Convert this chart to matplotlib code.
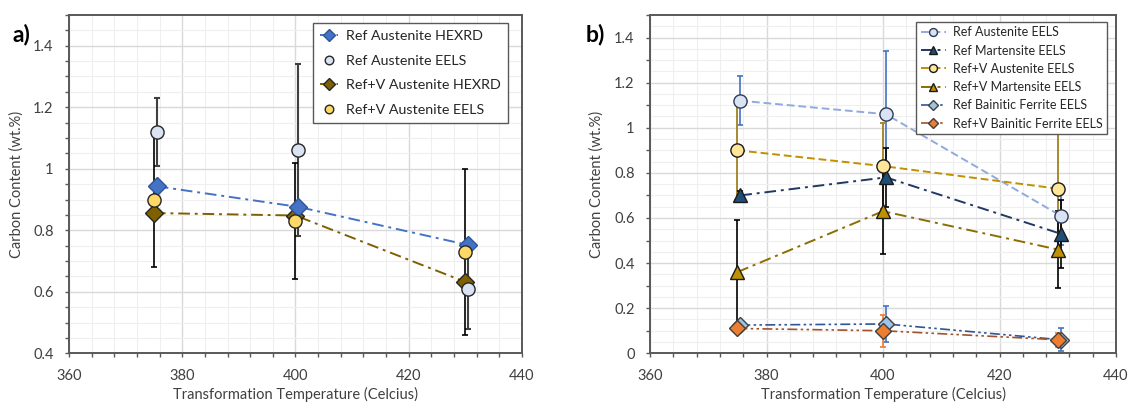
import matplotlib
matplotlib.use("Agg")
import matplotlib.pyplot as plt
import numpy as np
from matplotlib.ticker import MultipleLocator, FuncFormatter

plt.rcParams["font.family"] = ["Lato", "DejaVu Sans"]

# transformation temperatures (Ref points sit slightly right of Ref+V ones)
temp_ref = [375.5, 400.5, 430.5]
temp_refv = [375.0, 400.0, 430.0]

# panel a: austenite carbon from HEXRD and EELS
ref_aus_hexrd = [0.943, 0.876, 0.752]
refv_aus_hexrd = [0.856, 0.848, 0.632]
ref_aus_eels = [1.12, 1.06, 0.61]
ref_aus_eels_err = [0.11, 0.28, 0.13]
refv_aus_eels = [0.90, 0.83, 0.73]
refv_aus_eels_err = [0.22, 0.19, 0.27]

# panel b: EELS per phase
ref_mart_eels = [0.70, 0.78, 0.53]
ref_mart_eels_err = [0.02, 0.13, 0.15]
refv_mart_eels = [0.36, 0.63, 0.46]
refv_mart_eels_err = [0.23, 0.19, 0.17]
ref_bf_eels = [0.125, 0.13, 0.06]
ref_bf_eels_err = [0.02, 0.08, 0.05]
refv_bf_eels = [0.11, 0.10, 0.06]
refv_bf_eels_err = [0.02, 0.07, 0.03]

GREY = "#595959"
TEXT = "#404040"
DASHDOT = (0, (6, 2.5, 1.5, 2.5))
DASHED = (0, (4, 2))
DASHDOTDOT = (0, (6, 2, 1.5, 2, 1.5, 2))


def style_axes(ax, ymin, ymax):
    ax.set_xticks(np.arange(360, 441, 20))
    ax.xaxis.set_minor_locator(MultipleLocator(4))
    ax.set_yticks(np.arange(ymin, 1.41, 0.2))
    ax.yaxis.set_minor_locator(MultipleLocator(0.05))
    ax.yaxis.set_major_formatter(FuncFormatter(lambda v, p: "%g" % round(v, 2)))
    ax.set_xlim(360, 440)
    ax.set_ylim(ymin, ymax)
    ax.grid(which="major", color="#d9d9d9", lw=1.0, zorder=0)
    ax.grid(which="minor", color="#efefef", lw=0.8, zorder=0)
    ax.set_axisbelow(True)
    for sp in ax.spines.values():
        sp.set_color(GREY)
        sp.set_linewidth(1.4)
    ax.tick_params(which="both", direction="out", length=3, width=1.0,
                   color=GREY, labelcolor=TEXT, labelsize=10.5, pad=8)
    ax.set_xlabel("Transformation Temperature (Celcius)", fontsize=10.5,
                  color=TEXT, labelpad=3)
    ax.set_ylabel("Carbon Content (wt.%)", fontsize=10.5, color=TEXT)
    ax.yaxis.set_label_coords(-0.10, 0.5)


def errbars(ax, x, y, e, color, lw=1.2):
    ax.errorbar(x, y, yerr=e, fmt="none", ecolor=color, elinewidth=lw,
                capsize=2.5, capthick=lw, zorder=2)


fig = plt.figure(figsize=(11.33, 4.05), dpi=100)
ax_a = fig.add_axes([0.0609, 0.1277, 0.3998, 0.8353])
ax_b = fig.add_axes([0.5737, 0.1277, 0.4113, 0.8353])

# ---- a) ----
errbars(ax_a, temp_ref, ref_aus_eels, ref_aus_eels_err, "#404040", 1.5)
errbars(ax_a, temp_refv, refv_aus_eels, refv_aus_eels_err, "black")
ax_a.plot(temp_ref, ref_aus_hexrd, color="#4472C4", ls=DASHDOT, lw=1.4,
          marker="D", ms=9.5, mfc="#4472C4", mec="#2F5597", mew=1.0,
          zorder=4, label="Ref Austenite HEXRD")
ax_a.plot(temp_ref, ref_aus_eels, ls="none", marker="o", ms=9.5,
          mfc="#DAE3F3", mec="#262626", mew=1.0, zorder=4,
          label="Ref Austenite EELS")
ax_a.plot(temp_refv, refv_aus_hexrd, color="#7F6000", ls=DASHDOT, lw=1.4,
          marker="D", ms=9.5, mfc="#7F6000", mec="#262626", mew=1.0,
          zorder=3, label="Ref+V Austenite HEXRD")
ax_a.plot(temp_refv, refv_aus_eels, ls="none", marker="o", ms=9.5,
          mfc="#FFD966", mec="#262626", mew=1.0, zorder=5,
          label="Ref+V Austenite EELS")
style_axes(ax_a, 0.4, 1.5)
leg = ax_a.legend(loc="upper right", bbox_to_anchor=(0.985, 0.998),
                  fontsize=10.3, handlelength=1.2, markerscale=0.65,
                  handletextpad=0.6, labelspacing=0.88, borderpad=0.5,
                  fancybox=False, framealpha=1, edgecolor=GREY,
                  labelcolor="#262626")
leg.get_frame().set_linewidth(1.0)

# ---- b) ----
errbars(ax_b, temp_ref, ref_aus_eels, ref_aus_eels_err, "#4472C4")
errbars(ax_b, temp_refv, refv_aus_eels, refv_aus_eels_err, "#A68A30", 1.4)
errbars(ax_b, temp_ref, ref_mart_eels, ref_mart_eels_err, "black")
errbars(ax_b, temp_refv, refv_mart_eels, refv_mart_eels_err, "black")
errbars(ax_b, temp_ref, ref_bf_eels, ref_bf_eels_err, "#4472C4")
errbars(ax_b, temp_refv, refv_bf_eels, refv_bf_eels_err, "#ED7D31")

ax_b.plot(temp_ref, ref_aus_eels, color="#8FAADC", ls=DASHED, lw=1.4,
          marker="o", ms=9.5, mfc="#DAE3F3", mec="#2E3B55", mew=1.0,
          zorder=4, label="Ref Austenite EELS")
ax_b.plot(temp_ref, ref_mart_eels, color="#203864", ls=DASHDOT, lw=1.4,
          marker="^", ms=10, mfc="#1F4E79", mec="#1a1a1a", mew=1.0,
          zorder=4, label="Ref Martensite EELS")
ax_b.plot(temp_refv, refv_aus_eels, color="#BF9000", ls=DASHED, lw=1.4,
          marker="o", ms=9.5, mfc="#FFE699", mec="#1a1a1a", mew=1.0,
          zorder=4, label="Ref+V Austenite EELS")
ax_b.plot(temp_refv, refv_mart_eels, color="#8C6D00", ls=DASHDOT, lw=1.4,
          marker="^", ms=10, mfc="#BF9000", mec="#1a1a1a", mew=1.0,
          zorder=4, label="Ref+V Martensite EELS")
ax_b.plot(temp_ref, ref_bf_eels, color="#2F5597", ls=DASHDOTDOT, lw=1.2,
          marker="D", ms=8.5, mfc="#9DC3E6", mec="#404040", mew=1.0,
          zorder=4, label="Ref Bainitic Ferrite EELS")
ax_b.plot(temp_refv, refv_bf_eels, color="#A0522D", ls=DASHDOTDOT, lw=1.2,
          marker="D", ms=8.5, mfc="#ED7D31", mec="#404040", mew=1.0,
          zorder=5, label="Ref+V Bainitic Ferrite EELS")
style_axes(ax_b, 0.0, 1.5)
# b keeps the 0.05 grid but only marks every 0.1 on the axis
locs = ax_b.yaxis.get_minorticklocs()
for loc, tick in zip(locs, ax_b.yaxis.get_minor_ticks(len(locs))):
    if int(round(loc * 20)) % 2 == 1:
        tick.tick1line.set_visible(False)
leg = ax_b.legend(loc="upper right", bbox_to_anchor=(0.995, 0.998),
                  fontsize=9.0, handlelength=2.0, markerscale=0.6,
                  handletextpad=0.6, labelspacing=0.5, borderpad=0.35,
                  fancybox=False, framealpha=1, edgecolor=GREY,
                  labelcolor="#262626")
leg.get_frame().set_linewidth(1.0)

fig.text(0.011, 1 - 41 / 405, "a)", fontsize=16.5, fontweight="bold",
         va="baseline", ha="left")
fig.text(0.517, 1 - 41 / 405, "b)", fontsize=16.5, fontweight="bold",
         va="baseline", ha="left")

fig.savefig("out.png", dpi=100)
